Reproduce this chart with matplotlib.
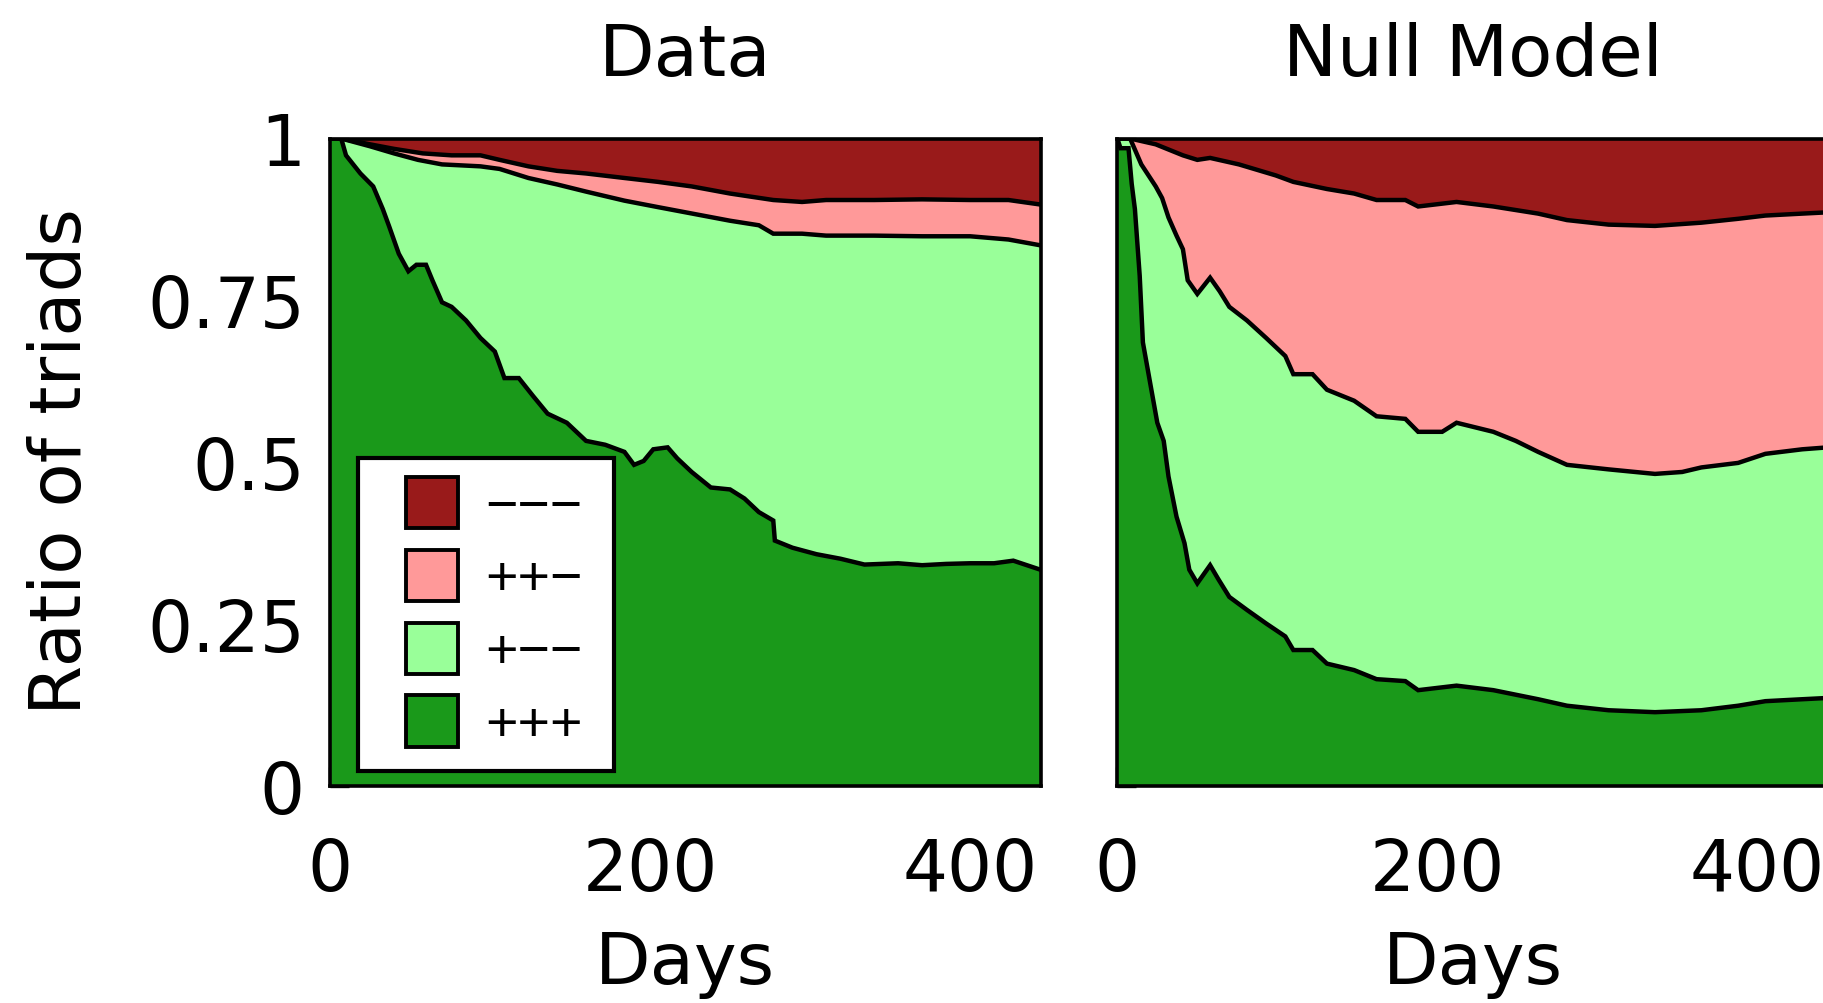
import matplotlib
matplotlib.use('Agg')
import matplotlib.pyplot as plt
from matplotlib.patches import Patch, Rectangle
from matplotlib.legend_handler import HandlerPatch

plt.rcParams['font.family'] = ['DejaVu Sans']

# ---------------- data (cumulative boundaries of stacked shares) ----------------
labels = ['\u2212\u2212\u2212', '++\u2212', '+\u2212\u2212', '+++']
colors = ['#991A1A', '#FF9999', '#99FF99', '#1A991A']
titles = ['Data', 'Null Model']
xticks = [0, 200, 400]
yticks = [0, 0.25, 0.5, 0.75, 1]
yticklabels = ['0', '0.25', '0.5', '0.75', '1']

# Data panel: top of +++ layer
d_days_ppp = [0, 7, 10, 19, 27, 33, 37, 43, 49, 54, 60, 64, 70, 76, 85, 94, 103, 109, 118,
              127, 136, 148, 160, 172, 184, 190, 196, 202, 211, 217, 226, 238, 250, 259,
              268, 277, 278, 289, 304, 319, 334, 355, 370, 385, 400, 415, 427, 444]
d_ppp = [1.0, 1.0, 0.974, 0.946, 0.926, 0.891, 0.864, 0.822, 0.795, 0.805, 0.805, 0.781,
         0.747, 0.740, 0.719, 0.692, 0.671, 0.630, 0.630, 0.602, 0.575, 0.561, 0.533,
         0.527, 0.516, 0.496, 0.502, 0.520, 0.523, 0.506, 0.485, 0.461, 0.458, 0.444,
         0.423, 0.410, 0.379, 0.368, 0.358, 0.351, 0.342, 0.344, 0.341, 0.343, 0.344,
         0.344, 0.348, 0.334]
# Data panel: top of +-- layer
d_days_pmm = [0, 7, 25, 40, 55, 70, 94, 106, 124, 142, 160, 184, 205, 220, 235, 250, 268,
              277, 295, 310, 340, 370, 400, 424, 444]
d_pmm = [1.0, 1.0, 0.988, 0.977, 0.967, 0.960, 0.957, 0.953, 0.939, 0.929, 0.918, 0.904,
         0.894, 0.887, 0.880, 0.873, 0.866, 0.853, 0.853, 0.850, 0.850, 0.849, 0.849,
         0.844, 0.835]
# Data panel: top of ++- layer
d_days_ppm = [0, 7, 25, 40, 58, 76, 94, 106, 124, 142, 160, 184, 205, 226, 250, 277, 295,
              310, 340, 370, 400, 424, 444]
d_ppm = [1.0, 1.0, 0.991, 0.984, 0.977, 0.974, 0.974, 0.967, 0.957, 0.950, 0.946, 0.939,
         0.933, 0.926, 0.915, 0.905, 0.902, 0.905, 0.905, 0.906, 0.905, 0.905, 0.898]

# Null model panel: top of +++ layer
n_days_ppp = [0, 2, 7, 9, 11, 14, 16, 21, 25, 29, 32, 37, 42, 45, 50, 58, 63, 70, 81, 93,
              105, 110, 122, 131, 148, 162, 180, 188, 212, 235, 263, 281, 307, 336, 365,
              388, 405, 428, 444]
n_ppp = [1.0, 0.985, 0.985, 0.93, 0.891, 0.788, 0.685, 0.616, 0.561, 0.533, 0.478, 0.416,
         0.375, 0.334, 0.313, 0.341, 0.320, 0.292, 0.272, 0.251, 0.231, 0.210, 0.210,
         0.189, 0.179, 0.165, 0.162, 0.148, 0.155, 0.148, 0.134, 0.124, 0.117, 0.114,
         0.117, 0.124, 0.131, 0.134, 0.136]
# Null model panel: top of +-- layer
n_days_pmm = [0, 8, 15, 24, 28, 32, 37, 41, 44, 50, 58, 64, 70, 81, 93, 105, 110, 122, 131,
              148, 162, 180, 188, 203, 212, 235, 249, 263, 281, 307, 336, 353, 365, 388,
              405, 428, 444]
n_pmm = [1.0, 1.0, 0.960, 0.926, 0.908, 0.878, 0.850, 0.829, 0.781, 0.760, 0.785, 0.764,
         0.740, 0.719, 0.692, 0.664, 0.636, 0.636, 0.612, 0.595, 0.571, 0.567, 0.547,
         0.547, 0.561, 0.547, 0.533, 0.516, 0.496, 0.489, 0.482, 0.485, 0.492, 0.499,
         0.513, 0.520, 0.523]
# Null model panel: top of ++- layer
n_days_ppm = [0, 8, 24, 41, 50, 58, 76, 99, 110, 131, 148, 162, 180, 188, 212, 235, 263,
              281, 307, 336, 365, 388, 405, 428, 444]
n_ppm = [1.0, 1.0, 0.991, 0.974, 0.967, 0.970, 0.960, 0.943, 0.933, 0.922, 0.915, 0.905,
         0.905, 0.895, 0.902, 0.895, 0.884, 0.874, 0.867, 0.865, 0.870, 0.876, 0.881,
         0.884, 0.886]

panels = [
    [(d_days_ppm, d_ppm), (d_days_pmm, d_pmm), (d_days_ppp, d_ppp)],
    [(n_days_ppm, n_ppm), (n_days_pmm, n_pmm), (n_days_ppp, n_ppp)],
]

# ---------------- figure ----------------
W, H = 1823, 1004
fig = plt.figure(figsize=(W / 100, H / 100), dpi=100)
ax_w = 710.5 / W
ax_h = 647.5 / H
ax_b = 1 - 787 / H
lefts = [330 / W, 1117.3 / W]
TICK_FS = 51
LAB_FS = 52


def square_patch(legend, orig_handle, xdescent, ydescent, width, height, fontsize):
    side = height
    return Rectangle((-xdescent + width - side, -ydescent), side, side)


for i, (left, bounds) in enumerate(zip(lefts, panels)):
    ax = fig.add_axes([left, ax_b, ax_w, ax_h])
    ax.set_xlim(0, 444)
    ax.set_ylim(0, 1)
    ax.fill_between([0, 444], [0, 0], [1, 1], color=colors[0], lw=0, zorder=1)
    for k, (xs, ys) in enumerate(bounds):
        ax.fill_between(xs, 0, ys, color=colors[k + 1], lw=0, zorder=2 + k)
    for k, (xs, ys) in enumerate(bounds):
        ax.plot(xs, ys, color='black', lw=3.2, zorder=10, solid_joinstyle='miter')
    ax.set_xticks(xticks)
    ax.set_xticklabels([str(t) for t in xticks])
    ax.set_yticks(yticks)
    if i == 0:
        ax.set_yticklabels(yticklabels)
    else:
        ax.set_yticklabels([])
    ax.tick_params(axis='both', direction='in', length=14, width=2.4,
                   top=False, right=False, labelsize=TICK_FS, colors='black')
    ax.tick_params(axis='x', pad=36)
    ax.tick_params(axis='y', pad=18)
    for sp in ax.spines.values():
        sp.set_linewidth(2.6)
        sp.set_color('black')
        sp.set_zorder(20)
    cx = left + ax_w / 2
    fig.text(cx, 1 - 75.6 / H, titles[i], ha='center', va='baseline', fontsize=LAB_FS)
    fig.text(cx, 1 - 984 / H, 'Days', ha='center', va='baseline', fontsize=LAB_FS)

    if i == 0:
        handles = [Patch(facecolor=c, edgecolor='black', linewidth=2.8) for c in colors]
        leg = ax.legend(handles, labels, loc='lower left',
                        bbox_to_anchor=(0.0394, 0.0232, 0.3603, 0.4),
                        mode='expand',
                        prop={'family': 'Liberation Sans', 'size': 40},
                        frameon=True, fancybox=False, framealpha=1,
                        edgecolor='black', handlelength=1.46, handleheight=1.05,
                        labelspacing=0.29, handletextpad=0.49, borderpad=0.34,
                        borderaxespad=0,
                        handler_map={Patch: HandlerPatch(patch_func=square_patch)})
        leg.get_frame().set_linewidth(3.0)
        leg.set_zorder(30)

fig.text(62 / W, 1 - 462 / H, 'Ratio of triads', rotation=90, ha='center', va='center',
         fontsize=LAB_FS)

fig.savefig('out.png', dpi=100)
